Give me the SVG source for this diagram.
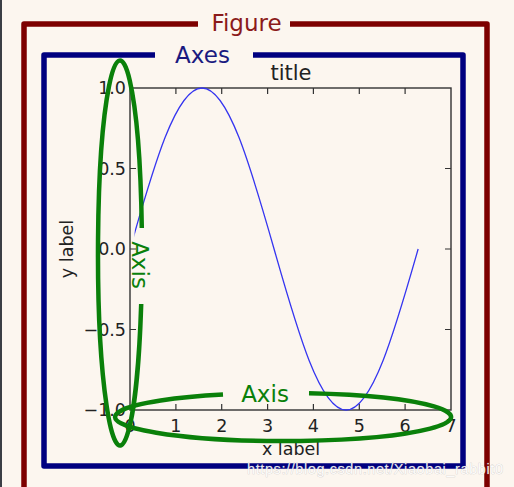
<svg xmlns="http://www.w3.org/2000/svg" width="514" height="487" viewBox="0 0 514 487">
<style>
.tick{stroke:#333;stroke-width:1.2;fill:none}
.tl{font-family:"DejaVu Sans",sans-serif;font-size:17.5px;fill:#222}
.ann{font-family:"DejaVu Sans",sans-serif;font-size:23px}
.ell{fill:none;stroke:#0a800a;stroke-width:4.5;stroke-linecap:butt}
</style>
<defs>
<clipPath id="sc"><rect x="134.6" y="80" width="300" height="340"/></clipPath>
</defs>
<rect width="514" height="487" fill="#fcf6ef"/>
<rect x="0" y="0" width="2" height="487" fill="#3b3e45"/>

<g id="figure">
<path d="M198,24 H24 V492 M290,24 H487 V492" fill="none" stroke="#7d0000" stroke-width="5.5" stroke-linejoin="round"/>
<text class="ann" x="246.5" y="31" text-anchor="middle" fill="#8b1a1a">Figure</text>
</g>

<g id="axes">
<path d="M155,55 H44 V466 H463 V55 H253" fill="none" stroke="#000080" stroke-width="5.5" stroke-linejoin="round"/>
<text class="ann" x="202.5" y="63" text-anchor="middle" fill="#1a1a80">Axes</text>
</g>

<g id="plot">
<rect x="130" y="88" width="321" height="322" fill="none" stroke="#333" stroke-width="1.4"/>
<path class="tick" d="M175.9,88v6 M221.7,88v6 M267.6,88v6 M313.4,88v6 M359.3,88v6 M405.1,88v6
M175.9,410v-6 M221.7,410v-6 M267.6,410v-6 M313.4,410v-6 M359.3,410v-6 M405.1,410v-6
M130,168.5h6 M130,249h6 M130,329.5h6 M451,168.5h-6 M451,249h-6 M451,329.5h-6"/>
<g class="tl" text-anchor="end">
<text x="126" y="94.3">1.0</text>
<text x="126" y="174.8">0.5</text>
<text x="126" y="255.3">0.0</text>
<text x="126" y="335.8">−0.5</text>
<text x="126" y="416.3">−1.0</text>
</g>
<g class="tl" text-anchor="middle">
<text x="130" y="432">0</text>
<text x="175.9" y="432">1</text>
<text x="221.7" y="432">2</text>
<text x="267.6" y="432">3</text>
<text x="313.4" y="432">4</text>
<text x="359.3" y="432">5</text>
<text x="405.1" y="432">6</text>
<text x="451" y="432">7</text>
</g>
<text class="tl" x="291" y="80" text-anchor="middle" style="font-size:21px">title</text>
<text class="tl" x="291" y="455" text-anchor="middle">x label</text>
<text class="tl" transform="translate(73,249) rotate(-90)" text-anchor="middle">y label</text>
<path clip-path="url(#sc)" d="M130,249 C153.49,166.52 175.97,88 202.04,88 C228.11,88 250.58,166.52 274.07,249 C297.56,331.48 320.04,410 346.11,410 C372.18,410 394.65,331.48 418.14,249" fill="none" stroke="#3535f0" stroke-width="1.3"/>
</g>

<g id="connectors">
<path id="yaxis-ellipse" class="ell" d="M141.8,228 A22,192.5 0 1 0 141.2,304"/>
<path id="xaxis-ellipse" class="ell" d="M223,394.6 A168,24 0 1 0 309,393.3"/>
</g>

<g id="axis-labels">
<text class="ann" transform="translate(132,265) rotate(90)" text-anchor="middle" fill="#0a800a">Axis</text>
<text class="ann" x="265" y="402" text-anchor="middle" fill="#0a800a">Axis</text>
</g>

<text x="247" y="474" font-family="Liberation Sans, Arial, sans-serif" font-size="14.5" textLength="256" fill="#ffffff" fill-opacity="0.9" stroke="#9a9a9a" stroke-opacity="0.5" stroke-width="0.6" paint-order="stroke">https://blog.csdn.net/Xiaobai_rabbit0</text>
</svg>
